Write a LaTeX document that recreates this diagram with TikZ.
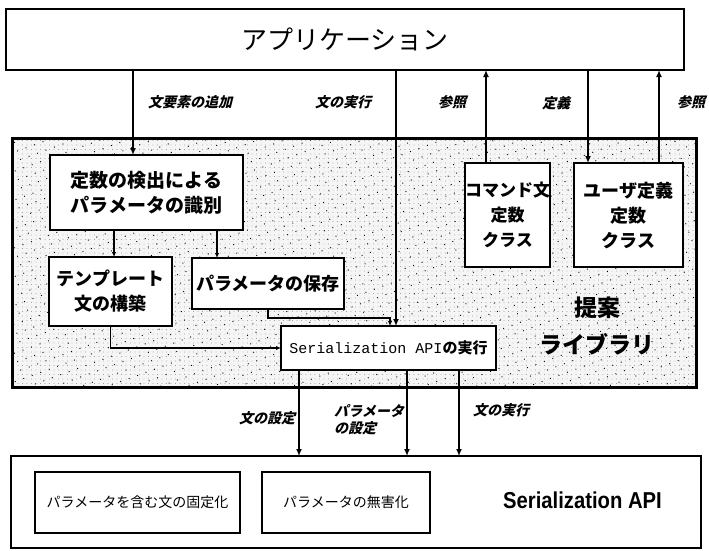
\documentclass[tikz,border=0pt]{standalone}
\usepackage{fontspec}
\setmainfont{Liberation Sans}
\newfontfamily\jp{Noto Sans CJK JP}
\newfontfamily\jpsl{Noto Sans CJK JP}[FakeSlant=0.25]
\newfontfamily\mono{Liberation Mono}
\newfontfamily\sapifont{Liberation Sans}[FakeStretch=0.88]
\usetikzlibrary{arrows.meta,patterns.meta}
\begin{document}
\begin{tikzpicture}[x=1pt,y=-1pt,
  box/.style={draw,line width=1.6pt,fill=white,inner sep=0pt,outer sep=0pt,align=center,
    font=\jp\bfseries\fontsize{19}{25}\selectfont},
  bigconn/.style={line width=2.6pt,-{Latex[length=7pt,width=6pt]}},
  smallconn/.style={line width=1.1pt,-{Latex[length=5pt,width=4.5pt]}},
  lbl/.style={font=\jpsl\bfseries\fontsize{14}{17}\selectfont,inner sep=0pt,align=left}]
\useasboundingbox (0,0) rectangle (709,550);
\fill[white] (0,0) rectangle (709,550);
% application
\node[box,line width=2pt,minimum width=678pt,minimum height=61pt,font=\jp\fontsize{26}{30}\selectfont] (app) at (345,39.5) {アプリケーション};
% library
\node[draw,line width=3pt,fill=black!4,minimum width=684pt,minimum height=249pt,inner sep=0pt,outer sep=0pt] (lib) at (354,262.5) {};
\fill[pattern={Dots[distance=4.5pt,radius=0.35pt]},pattern color=black!55] (lib.north west) rectangle (lib.south east);
\fill[pattern={Dots[distance=9pt,radius=0.65pt,angle=20]},pattern color=black] (lib.north west) rectangle (lib.south east);
\draw[line width=3pt] (lib.north west) rectangle (lib.south east);
\node[font=\jp\bfseries\fontsize{23}{37}\selectfont,align=center,inner sep=0pt] (libname) at (597,326) {提案\\ライブラリ};
% inner boxes
\node[box,minimum width=193pt,minimum height=75pt] (detect) at (146.5,192.5) {定数の検出による\\パラメータの識別};
\node[box,minimum width=123pt,minimum height=69pt,font=\jp\bfseries\fontsize{18}{25}\selectfont] (tmpl) at (110.5,291.5) {テンプレート\\文の構築};
\node[box,minimum width=152pt,minimum height=51pt,font=\jp\bfseries\fontsize{18}{24}\selectfont] (save) at (268,283.5) {パラメータの保存};
\node[box,minimum width=215pt,minimum height=44pt,font=\fontsize{15}{18}\selectfont] (exec) at (388.5,348) {{\mono Serialization API}{\jp\bfseries の実行}};
\node[box,minimum width=85pt,minimum height=104pt,font=\jp\bfseries\fontsize{17}{25}\selectfont] (cmdc) at (507.5,215) {コマンド文\\定数\\クラス};
\node[box,minimum width=109pt,minimum height=104pt,font=\jp\bfseries\fontsize{18}{25}\selectfont] (userc) at (628.5,215) {ユーザ定義\\定数\\クラス};
% Serialization API
\node[box,line width=1.2pt,minimum width=690pt,minimum height=92pt] (sapi) at (356,502) {};
\node[box,line width=1.4pt,minimum width=205pt,minimum height=61pt,font=\jp\fontsize{14}{17}\selectfont] (fix) at (137.5,502.5) {パラメータを含む文の固定化};
\node[box,line width=1.4pt,minimum width=168pt,minimum height=61pt,font=\jp\fontsize{14}{17}\selectfont] (sanit) at (346,502.5) {パラメータの無害化};
\node[font=\sapifont\bfseries\fontsize{23}{26}\selectfont,anchor=east,inner sep=0pt] (sapiname) at (662,500) {Serialization API};
% x positions
\coordinate (xa) at (133,0);
\coordinate (xb) at (396,0);
\coordinate (xc) at (486,0);
\coordinate (xd) at (588,0);
\coordinate (xe) at (659,0);
\coordinate (xf) at (114,0);
\coordinate (xg) at (217,0);
\coordinate (xh) at (390,0);
\coordinate (xi) at (299,0);
\coordinate (xj) at (407,0);
\coordinate (xk) at (459,0);
\coordinate (yb) at (0,318);
% top connectors
\draw[bigconn] (app.south -| xa) -- (detect.north -| xa);
\draw[bigconn] (app.south -| xb) -- (exec.north -| xb);
\draw[bigconn] (cmdc.north -| xc) -- (app.south -| xc);
\draw[bigconn] (app.south -| xd) -- (userc.north -| xd);
\draw[bigconn] (userc.north -| xe) -- (app.south -| xe);
% internal connectors
\draw[smallconn] (detect.south -| xf) -- (tmpl.north -| xf);
\draw[smallconn] (detect.south -| xg) -- (save.north -| xg);
\draw[smallconn] (tmpl.south) |- (exec.west);
\draw[smallconn] (save.south) -- (save.south |- yb) -| (exec.north -| xh);
% bottom connectors
\draw[bigconn] (exec.south -| xi) -- (sapi.north -| xi);
\draw[bigconn] (exec.south -| xj) -- (sapi.north -| xj);
\draw[bigconn] (exec.south -| xk) -- (sapi.north -| xk);
% labels
\node[lbl] (l1) at (190,102) {文要素の追加};
\node[lbl] (l2) at (343,102) {文の実行};
\node[lbl] (l3) at (452,102) {参照};
\node[lbl] (l4) at (556,103) {定義};
\node[lbl] (l5) at (691,102) {参照};
\node[lbl] (l6) at (267,418) {文の設定};
\node[lbl] (l7) at (369,420) {パラメータ\\の設定};
\node[lbl] (l8) at (501,410) {文の実行};
\end{tikzpicture}
\end{document}
